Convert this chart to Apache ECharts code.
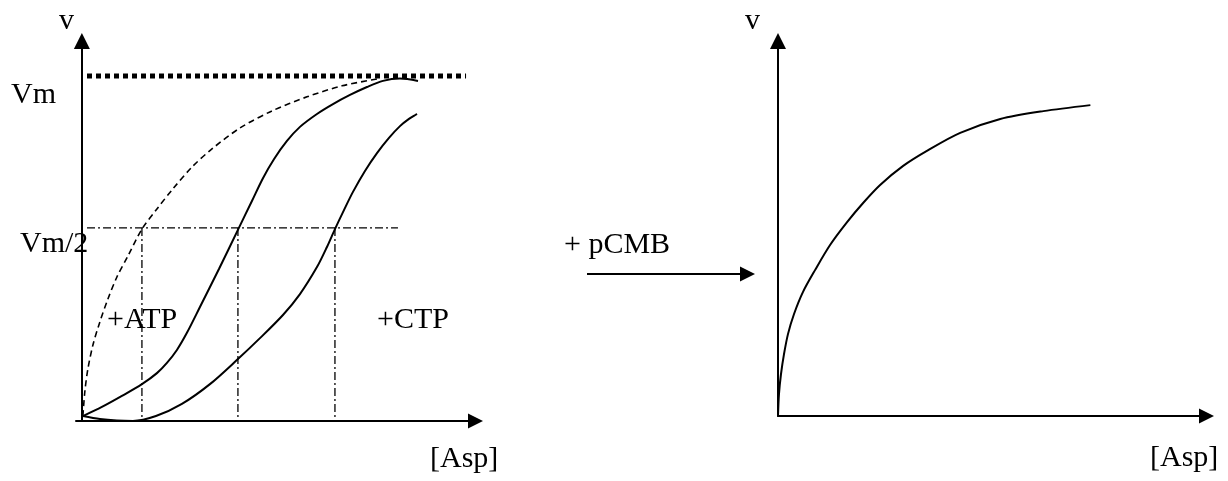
<!DOCTYPE html>
<html>
<head>
<meta charset="utf-8">
<title>Aspartate transcarbamylase kinetics</title>
<script src="https://cdn.jsdelivr.net/npm/echarts@6/dist/echarts.min.js"></script>
<style>
  html, body { margin: 0; padding: 0; background: #fff; }
  #chart { width: 1228px; height: 481px; }
</style>
</head>
<body>
<div id="chart"></div>
<script>
// Left panel: allosteric enzyme, [Asp] vs v (arbitrary units 0..100)
// Michaelis-Menten reference curve (dashed)
const mmAsp = [0.25, 0.76, 1.52, 2.8, 4.57, 6.61, 8.89, 11.69, 15.25, 19.06, 23.13, 27.95, 33.04, 40.15, 48.28, 57.18, 66.07, 74.97];
const mmV   = [1.3, 7.9, 13.7, 20.0, 26.1, 32.1, 37.9, 43.4, 50.5, 55.8, 61.1, 66.8, 71.6, 77.1, 81.6, 85.3, 88.2, 90.0];

// Sigmoid curve with ATP (activator)
const atpAsp = [0.25, 5.08, 10.17, 15.25, 19.06, 21.6, 24.14, 26.68, 29.99, 34.82, 39.64, 43.2, 46.0, 48.79, 52.1, 55.4, 59.72, 63.79, 68.11, 72.43, 76.49, 80.81, 85.39];
const atpV   = [1.3, 3.7, 6.6, 9.7, 12.6, 15.3, 18.7, 23.2, 30.0, 40.0, 50.3, 57.9, 63.9, 68.9, 73.7, 77.4, 80.8, 83.4, 85.8, 87.9, 89.5, 90.1, 89.5];

// Sigmoid curve with CTP (inhibitor)
const ctpAsp = [0.25, 4.57, 8.89, 12.96, 18.81, 25.41, 32.53, 39.64, 45.24, 51.08, 55.4, 59.72, 62.26, 64.29, 66.58, 68.87, 71.92, 74.97, 78.02, 80.81, 83.1, 85.13];
const ctpV   = [1.3, 0.5, 0.1, 0.0, 1.3, 4.5, 9.7, 16.3, 21.8, 27.9, 33.4, 40.5, 45.8, 50.5, 55.5, 60.3, 65.8, 70.5, 74.5, 77.6, 79.5, 80.8];

// Reference levels
const vmLevel = 90.8;              // dotted Vm line
const vmSpan = [1.3, 97.6];
const halfLevel = 50.8;            // dash-dot Vm/2 line
const halfSpan = [1.3, 80.3];
const halfCrossings = [15.25, 39.64, 64.29]; // [Asp] where each curve reaches Vm/2

// Right panel: after pCMB treatment (hyperbolic)
const pcmbAsp = [0, 0.23, 0.7, 1.4, 2.34, 3.74, 5.84, 8.64, 12.15, 16.12, 19.86, 23.83, 29.21, 35.05, 42.52, 51.87, 61.92, 72.9];
const pcmbV   = [0, 5.9, 11.2, 16.5, 21.9, 27.2, 33.1, 38.9, 45.6, 51.7, 56.8, 61.6, 66.7, 70.9, 75.5, 79.2, 81.3, 82.9];

const FONT = '30px "Liberation Serif", "Times New Roman", serif';
const pair = (xs, ys) => xs.map((x, i) => [x, ys[i]]);

const axisLineStyle = { color: '#000', width: 2 };
function valueAxis(extra) {
  return Object.assign({
    type: 'value',
    axisTick: { show: false },
    axisLabel: { show: false },
    splitLine: { show: false },
  }, extra);
}

const chart = echarts.init(document.getElementById('chart'), null, { renderer: 'canvas' });

const curveSeries = (name, xs, ys, lineStyle, grid, smooth) => ({
  name, type: 'line',
  xAxisIndex: grid, yAxisIndex: grid,
  data: pair(xs, ys),
  showSymbol: false, smooth: smooth === undefined ? 0.3 : smooth,
  lineStyle: Object.assign({ color: '#000', width: 2 }, lineStyle),
  silent: true, z: 3
});

const series = [
  curveSeries('Vm', vmSpan, [vmLevel, vmLevel], { width: 5, type: [5, 4], cap: 'butt' }, 0, false),
  curveSeries('Vm/2', halfSpan, [halfLevel, halfLevel], { width: 1.3, type: [8, 3, 2, 3] }, 0, false),
  curveSeries('hyperbolic', mmAsp, mmV, { width: 1.6, type: [6, 4] }, 0),
  curveSeries('+ATP', atpAsp, atpV, {}, 0),
  curveSeries('+CTP', ctpAsp, ctpV, {}, 0),
  curveSeries('+pCMB', pcmbAsp, pcmbV, {}, 1)
];
halfCrossings.forEach((x, i) => {
  series.push(curveSeries('drop' + i, [x, x], [halfLevel, 0], { width: 1.3, type: [8, 3, 2, 3] }, 0, false));
});

const text = (t, x, y) => ({
  type: 'text', x, y, silent: true,
  style: { text: t, font: FONT, fill: '#000', textVerticalAlign: 'middle' }
});

chart.setOption({
  animation: false,
  backgroundColor: '#fff',
  grid: [
    { left: 76, right: 752.5, top: 41, bottom: 60 },
    { left: 778, right: 21.5, top: 41, bottom: 65 }
  ],
  xAxis: [
    valueAxis({ gridIndex: 0, min: -1.5, max: 100,
      axisLine: { onZero: true, symbol: ['none', 'triangle'], symbolSize: [15, 15], lineStyle: axisLineStyle } }),
    valueAxis({ gridIndex: 1, min: 0, max: 100,
      axisLine: { onZero: true, symbol: ['none', 'triangle'], symbolSize: [15, 15], lineStyle: axisLineStyle } })
  ],
  yAxis: [
    valueAxis({ gridIndex: 0, min: 0, max: 100,
      axisLine: { onZero: true, symbol: ['none', 'triangle'], symbolSize: [16, 16], lineStyle: axisLineStyle } }),
    valueAxis({ gridIndex: 1, min: 0, max: 100,
      axisLine: { onZero: true, symbol: ['none', 'triangle'], symbolSize: [16, 16], lineStyle: axisLineStyle } })
  ],
  series,
  graphic: [
    text('v', 59, 21),
    text('Vm', 11, 95),
    text('Vm/2', 20, 244),
    text('+ATP', 107, 320),
    text('+CTP', 377, 320),
    text('[Asp]', 430, 459),
    text('v', 745, 21),
    text('+ pCMB', 564, 245),
    text('[Asp]', 1150, 458),
    // treatment arrow between the panels
    { type: 'line', silent: true,
      shape: { x1: 587, y1: 274, x2: 742, y2: 274 },
      style: { stroke: '#000', lineWidth: 2 } },
    { type: 'polygon', silent: true,
      shape: { points: [[740, 266.5], [755, 274], [740, 281.5]] },
      style: { fill: '#000' } }
  ]
});
</script>
</body>
</html>
